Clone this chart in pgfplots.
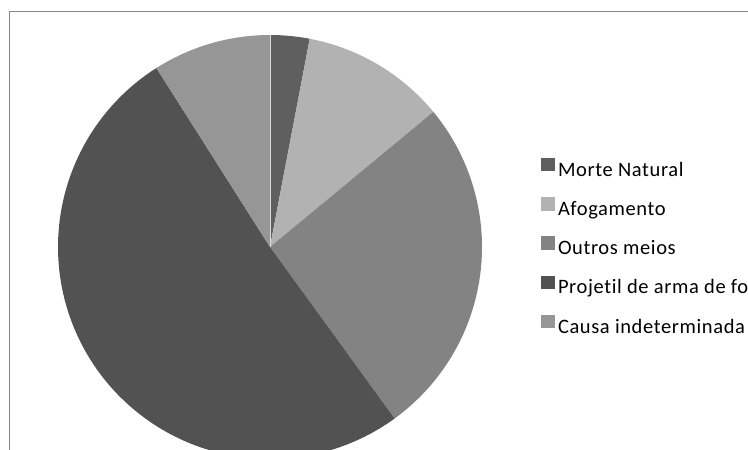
\documentclass[border=0pt]{standalone}
\usepackage{pgfplots}
\pgfplotsset{compat=1.18}
\usepackage{fontspec}
\setmainfont{Carlito}[LetterSpace=3, Ligatures={NoCommon}]
\definecolor{cMorte}{HTML}{5F5F5F}
\definecolor{cAfog}{HTML}{B2B2B2}
\definecolor{cOutros}{HTML}{838383}
\definecolor{cProj}{HTML}{525252}
\definecolor{cCausa}{HTML}{969696}
\definecolor{cFrame}{HTML}{878787}
% percentages of each slice
\def\vMorte{3}
\def\vAfog{11}
\def\vOutros{26}
\def\vProj{51}
\def\vCausa{9}
\begin{document}
\begin{tikzpicture}
\useasboundingbox (0,0) rectangle (748bp,450bp);
\clip (0,0) rectangle (748bp,450bp);
\pgfmathsetmacro\aA{90}
\pgfmathsetmacro\aB{\aA-3.6*\vMorte}
\pgfmathsetmacro\aC{\aB-3.6*\vAfog}
\pgfmathsetmacro\aD{\aC-3.6*\vOutros}
\pgfmathsetmacro\aE{\aD-3.6*\vProj}
\pgfmathsetmacro\aF{\aE-3.6*\vCausa}
\begin{axis}[
  at={(0,0)}, anchor=south west,
  scale only axis, width=748bp, height=450bp,
  xmin=0, xmax=748, ymin=0, ymax=450,
  hide axis,
  legend cell align=left,
  legend style={at={(axis cs:541,292)}, anchor=north west, draw=none, fill=none,
    inner sep=0pt, outer sep=0pt, row sep=16.9bp, column sep=3bp,
    font=\fontsize{20.5bp}{24bp}\selectfont,
    nodes={inner sep=0pt, text height=14bp, text depth=4bp}},
  legend image code/.code={\fill[#1] (0bp,0bp) rectangle (14bp,13.3bp);},
]
\addplot[fill=cMorte, draw=none, domain=\aB:\aA, samples=40] ({270+212*cos(x)},{203+212*sin(x)}) -- (axis cs:270,203) -- cycle;
\addlegendentry{Morte Natural}
\addplot[fill=cAfog, draw=none, domain=\aC:\aB, samples=60] ({270+212*cos(x)},{203+212*sin(x)}) -- (axis cs:270,203) -- cycle;
\addlegendentry{Afogamento}
\addplot[fill=cOutros, draw=none, domain=\aD:\aC, samples=100] ({270+212*cos(x)},{203+212*sin(x)}) -- (axis cs:270,203) -- cycle;
\addlegendentry{Outros meios}
\addplot[fill=cProj, draw=none, domain=\aE:\aD, samples=160] ({270+212*cos(x)},{203+212*sin(x)}) -- (axis cs:270,203) -- cycle;
\addlegendentry{Projetil de arma de fogo}
\addplot[fill=cCausa, draw=none, domain=\aF:\aE, samples=40] ({270+212*cos(x)},{203+212*sin(x)}) -- (axis cs:270,203) -- cycle;
\addlegendentry{Causa indeterminada}
\draw[white!85!black, line width=0.6bp] (axis cs:270,203) -- (axis cs:270,415);
\draw[cFrame, line width=1.5bp] (axis cs:9.5,0) -- (axis cs:9.5,438.5) -- (axis cs:748,438.5);
\end{axis}
\end{tikzpicture}
\end{document}
